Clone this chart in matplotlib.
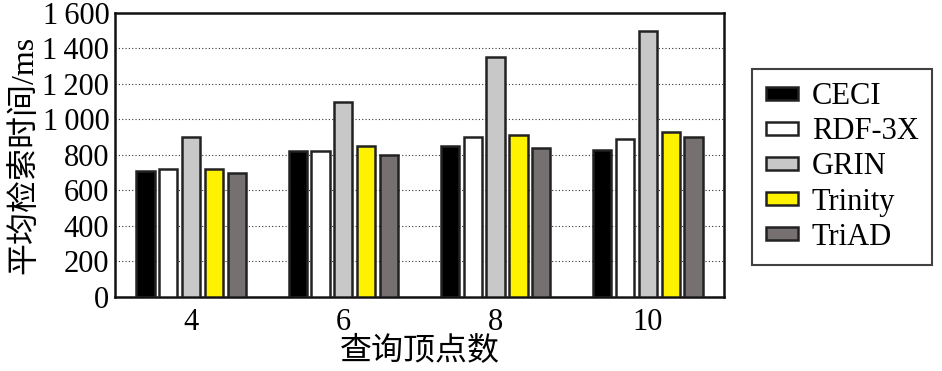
import numpy as np
import matplotlib.pyplot as plt

plt.rcParams['font.family'] = ['Liberation Serif', 'Noto Sans CJK SC']

groups = ['4', '6', '8', '10']
methods = ['CECI', 'RDF-3X', 'GRIN', 'Trinity', 'TriAD']
ceci = [710, 820, 850, 830]
rdf3x = [720, 820, 900, 890]
grin = [900, 1100, 1350, 1500]
trinity = [720, 850, 910, 930]
triad = [700, 800, 840, 900]
yticks = [0, 200, 400, 600, 800, 1000, 1200, 1400, 1600]
ytick_labels = ['0', '200', '400', '600', '800', '1\u2009000', '1\u2009200', '1\u2009400', '1\u2009600']
colors = ['#000000', '#ffffff', '#c8c8c8', '#fff200', '#767070']

fig = plt.figure(figsize=(9.42, 3.71), dpi=100)
ax = fig.add_axes([0.122, 0.1995, 0.6466, 0.7655])

x = np.arange(len(groups))
width = 0.12
step = 0.15
for i, (vals, c) in enumerate(zip([ceci, rdf3x, grin, trinity, triad], colors)):
    ax.bar(x + (i - 2) * step, vals, width, color=c, edgecolor='#222222',
           linewidth=1.8, label=methods[i], zorder=3)

ax.set_xlim(-0.5, 3.5)
ax.set_ylim(0, 1600)
ax.set_yticks(yticks)
ax.set_yticklabels(ytick_labels)
ax.set_xticks(x)
ax.set_xticklabels(groups)
ax.tick_params(axis='both', length=0, labelsize=22)
ax.tick_params(axis='y', pad=4)
ax.tick_params(axis='x', pad=8)
ax.grid(axis='y', linestyle=(0, (1, 2)), color='#333333', linewidth=0.8, zorder=0)
for s in ax.spines.values():
    s.set_linewidth(1.8)
    s.set_color('#111111')

ax.set_ylabel('平均检索时间/ms', fontsize=23, labelpad=2)
ax.set_xlabel('查询顶点数', fontsize=23, labelpad=0)

leg = fig.legend(loc='center left', bbox_to_anchor=(752 / 942, 1 - 167 / 371),
                 fontsize=22, frameon=True, fancybox=False, edgecolor='#111111',
                 handlelength=1.05, handleheight=0.28, handletextpad=0.45,
                 labelspacing=0.2, borderpad=0.45, borderaxespad=0)
leg.get_frame().set_linewidth(1.5)
for h in leg.legend_handles:
    h.set_linewidth(1.8)

fig.savefig('out.png', dpi=100)
